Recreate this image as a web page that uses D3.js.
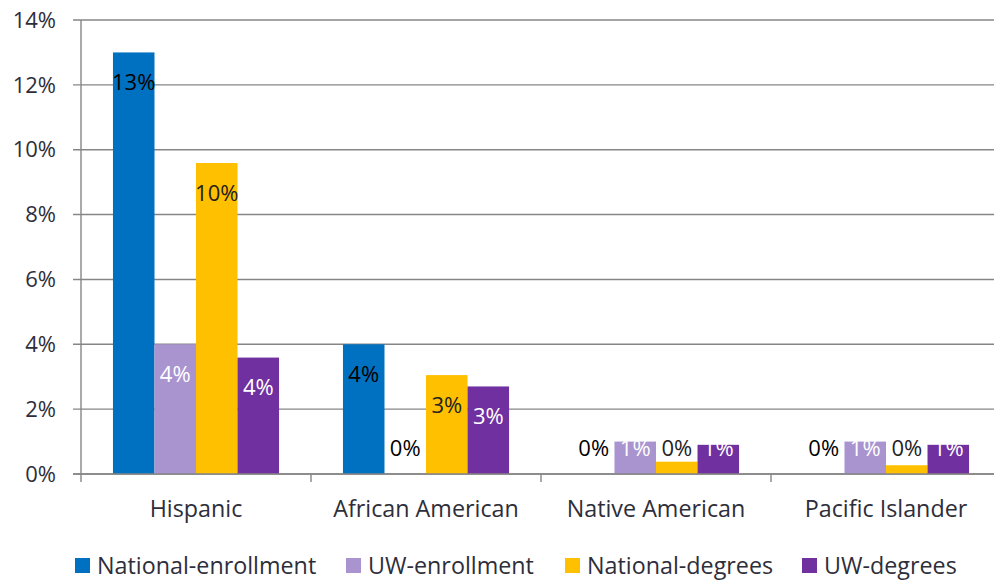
<!DOCTYPE html>
<html>
<head>
<meta charset="utf-8">
<script src="https://cdn.jsdelivr.net/npm/d3@7"></script>
<style>
  body { margin: 0; background: #fff; }
  text { font-family: "Open Sans", sans-serif; }
</style>
</head>
<body>
<div id="chart"></div>
<script>
const categories = ["Hispanic", "African American", "Native American", "Pacific Islander"];
const seriesNames = ["National-enrollment", "UW-enrollment", "National-degrees", "UW-degrees"];
const nationalEnrollment = [0.130, 0.040, 0.000, 0.000];
const uwEnrollment = [0.040, 0.000, 0.010, 0.010];
const nationalDegrees = [0.0959, 0.0305, 0.0038, 0.0027];
const uwDegrees = [0.0359, 0.0270, 0.0090, 0.0090];
const yTicks = [0, 0.02, 0.04, 0.06, 0.08, 0.10, 0.12, 0.14];

const colors = ["#0070C0", "#A994D0", "#FFC000", "#7030A0"];
const labelColors = ["#000", "#fff", "#222", "#fff"];
const seriesValues = [nationalEnrollment, uwEnrollment, nationalDegrees, uwDegrees];

const width = 994, height = 581;
const svg = d3.select("#chart").append("svg")
  .attr("width", width).attr("height", height);

const x0 = d3.scaleBand().domain(categories).range([81, 1001]);
const x1 = d3.scaleBand().domain(seriesNames).range([0, x0.bandwidth()]).paddingOuter(0.77);
const y = d3.scaleLinear().domain([0, 0.14]).range([474, 20]);

const axisColor = "#868686";
const textColor = "#2e2e3a";

// gridlines
svg.append("g").selectAll("line").data(yTicks).join("line")
  .attr("x1", 73).attr("x2", width)
  .attr("y1", d => y(d)).attr("y2", d => y(d))
  .attr("stroke", axisColor).attr("stroke-width", 1.4);

// y axis line
svg.append("line").attr("x1", 81).attr("x2", 81).attr("y1", y(0.14)).attr("y2", 482)
  .attr("stroke", axisColor).attr("stroke-width", 1.4);

// y tick labels
svg.append("g").selectAll("text").data(yTicks).join("text")
  .attr("x", 56).attr("y", d => y(d)).attr("dy", "0.35em")
  .attr("text-anchor", "end").attr("font-size", 22).attr("fill", textColor)
  .text(d3.format(".0%"));

// x category boundary ticks
svg.append("g").selectAll("line").data(categories).join("line")
  .attr("x1", d => x0(d) + x0.bandwidth()).attr("x2", d => x0(d) + x0.bandwidth())
  .attr("y1", 474).attr("y2", 482)
  .attr("stroke", axisColor).attr("stroke-width", 1.4);

// bars
const groups = svg.append("g").selectAll("g").data(categories).join("g")
  .attr("transform", d => `translate(${x0(d)},0)`);

groups.selectAll("rect")
  .data((c, i) => seriesNames.map((s, j) => ({ s, j, v: seriesValues[j][i] })))
  .join("rect")
  .attr("x", d => x1(d.s)).attr("width", x1.bandwidth())
  .attr("y", d => y(d.v)).attr("height", d => y(0) - y(d.v))
  .attr("fill", d => colors[d.j]);

// data labels
groups.selectAll("text")
  .data((c, i) => seriesNames.map((s, j) => ({ s, j, v: seriesValues[j][i] })))
  .join("text")
  .attr("x", d => x1(d.s) + x1.bandwidth() / 2)
  .attr("y", d => Math.min(y(d.v) + 30, y(0) - 26))
  .attr("dy", "0.35em")
  .attr("text-anchor", "middle").attr("font-size", 22)
  .attr("fill", d => d.v === 0 ? "#000" : labelColors[d.j])
  .text(d => d3.format(".0%")(d.v));

// x axis line
svg.append("line").attr("x1", 73).attr("x2", width).attr("y1", y(0)).attr("y2", y(0))
  .attr("stroke", axisColor).attr("stroke-width", 1.6);

// category labels
svg.append("g").selectAll("text").data(categories).join("text")
  .attr("x", d => x0(d) + x0.bandwidth() / 2).attr("y", 509).attr("dy", "0.35em")
  .attr("text-anchor", "middle").attr("font-size", 23.3).attr("fill", textColor)
  .text(d => d);

// legend
const legendX = [75, 346, 565, 802];
const legend = svg.append("g").selectAll("g").data(seriesNames).join("g")
  .attr("transform", (d, i) => `translate(${legendX[i]},558)`);
legend.append("rect").attr("width", 15).attr("height", 15).attr("fill", (d, i) => colors[i]);
legend.append("text").attr("x", 22).attr("y", 7.5).attr("dy", "0.35em")
  .attr("font-size", 23.3).attr("fill", textColor).text(d => d);
</script>
</body>
</html>
